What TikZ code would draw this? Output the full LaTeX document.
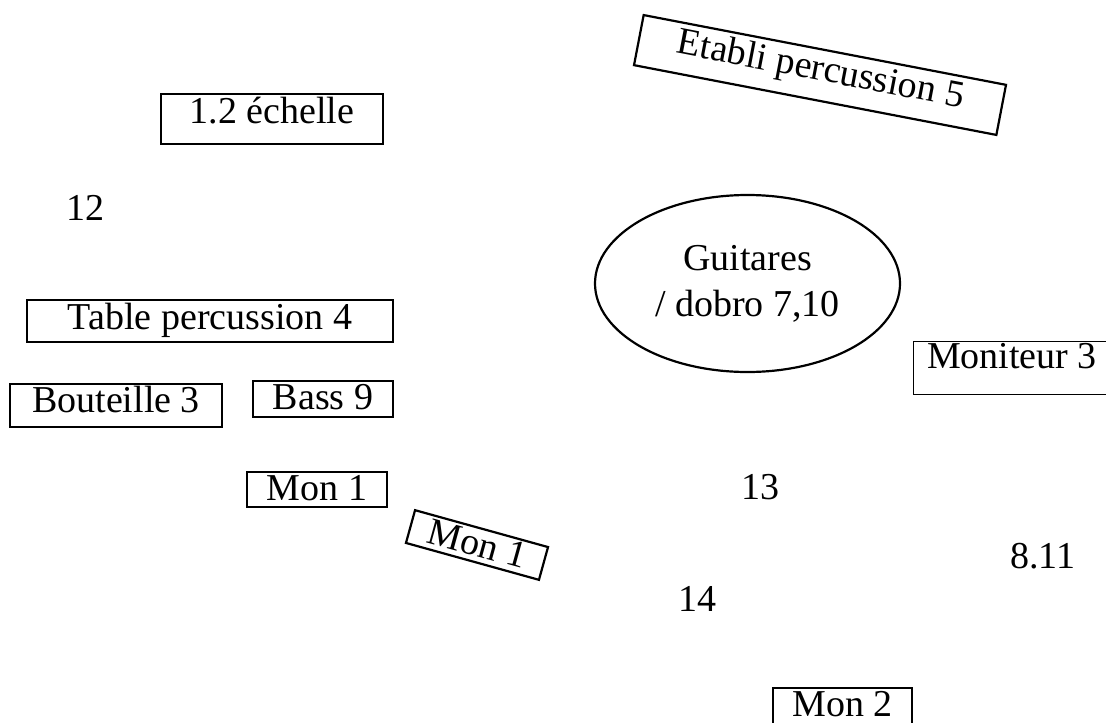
\documentclass[tikz,border=0pt]{standalone}
\usepackage{fontspec}
\setmainfont{Liberation Serif}
\usetikzlibrary{shapes.geometric}
\tikzset{
  box/.style={draw,line width=1.1pt,rectangle,inner sep=0pt},
  lbl/.style={anchor=base,inner sep=0pt}
}

\begin{document}
\begin{tikzpicture}[x=0.5pt,y=-0.5pt,font=\fontsize{19}{23}\selectfont]
  \useasboundingbox (0,0) rectangle (1106,722);

  % Boxes
  \node[box,anchor=base,minimum width=111pt,text height=14.5pt,text depth=10.5pt] (echelle) at (272,123) {1.2 échelle};
  \node[box,anchor=base,minimum width=183pt,text height=14.5pt,text depth=6.5pt] (tablePerc) at (210,329) {Table percussion 4};
  \node[box,anchor=base,minimum width=106pt,text height=14pt,text depth=7.5pt] (bouteille) at (116,412) {Bouteille 3};
  \node[box,anchor=base,minimum width=70pt,text height=14pt,text depth=4pt] (bass) at (323,409) {Bass 9};
  \node[box,anchor=base,minimum width=70pt,text height=14pt,text depth=3.5pt] (monA) at (317,500) {Mon 1};
  \node[box,anchor=base,minimum width=69.5pt,text height=14pt,text depth=14pt] (monC) at (842.5,716) {Mon 2};
  \node[box,line width=0.5pt,anchor=base,minimum width=99pt,text height=13.5pt,text depth=13pt] (moniteur) at (1012,368) {Moniteur 3};

  % Rotated boxes
  \node[box,rotate=-10.9,minimum width=184.5pt,text height=15.5pt,text depth=10pt] (etabli) at (820,75) {Etabli percussion 5};
  \node[box,rotate=-15.5,minimum width=69pt,text height=14pt,text depth=3pt] (monB) at (477,545) {Mon 1};

  % Guitars
  \node[draw,line width=1.1pt,ellipse,minimum width=152.5pt,minimum height=88.5pt,align=center] (guitares) at (747.5,283.5) {Guitares\\/ dobro 7,10};

  % Loose numbers
  \node[lbl] (n12) at (85,220) {12};
  \node[lbl] (n13) at (760,499) {13};
  \node[lbl] (n14) at (697,611) {14};
  \node[lbl] (n811) at (1043,568) {8.11};
\end{tikzpicture}
\end{document}
